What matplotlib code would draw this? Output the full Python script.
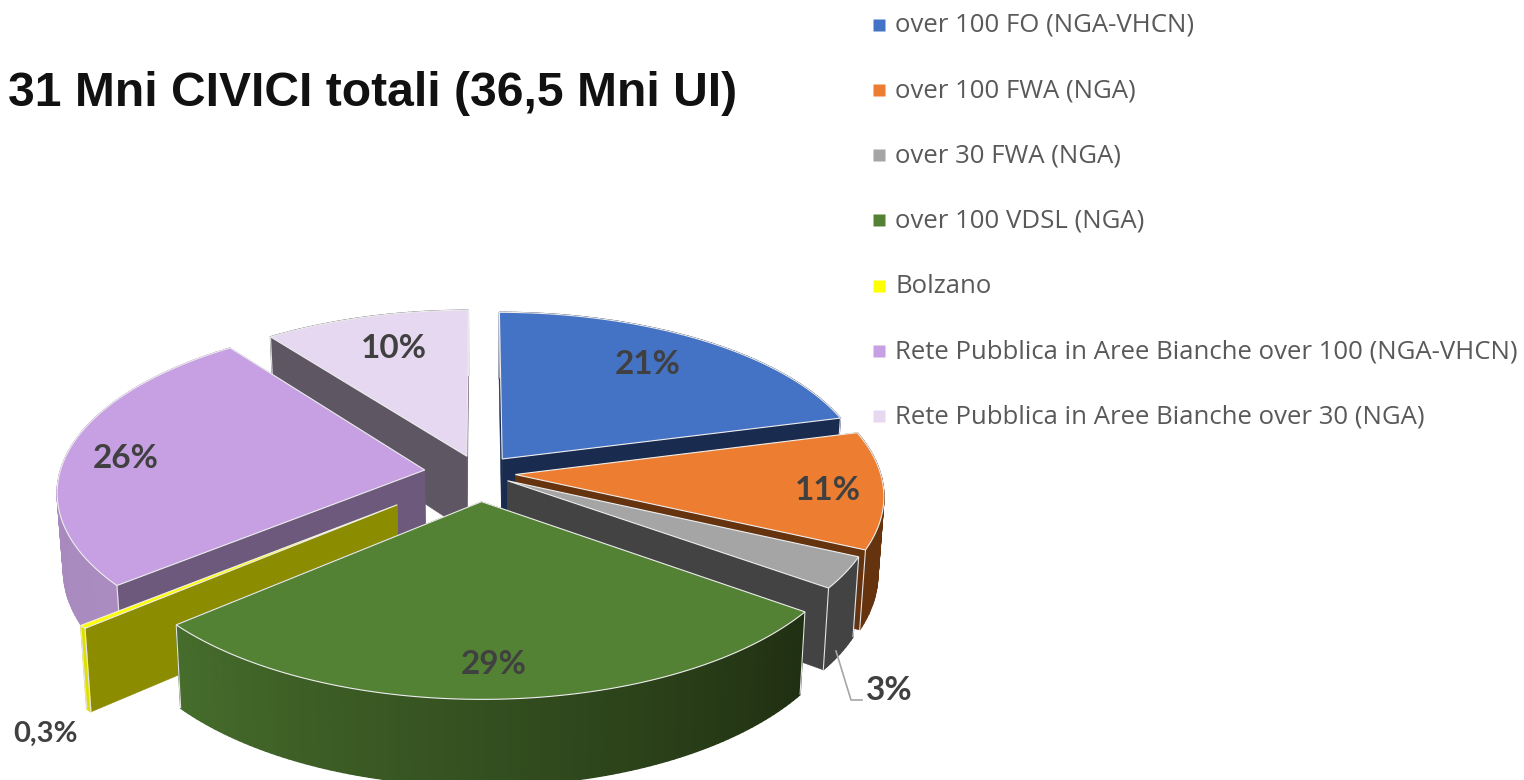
import numpy as np
import matplotlib
matplotlib.use("Agg")
import matplotlib.pyplot as plt
from matplotlib.patches import Polygon

title = "31 Mni CIVICI totali (36,5 Mni UI)"
categories = ["over 100 FO (NGA-VHCN)", "over 100 FWA (NGA)", "over 30 FWA (NGA)",
              "over 100 VDSL (NGA)", "Bolzano",
              "Rete Pubblica in Aree Bianche over 100 (NGA-VHCN)",
              "Rete Pubblica in Aree Bianche over 30 (NGA)"]
# labels in the picture are rounded, slice sizes read a bit finer
values = [21, 11, 3, 29, 0.3, 25.6, 10.4]
labels = ["21%", "11%", "3%", "29%", "0,3%", "26%", "10%"]

colors = ["#4472C4", "#ED7D31", "#A5A5A5", "#548235", "#FFFF00", "#C6A0E2", "#E6D8F0"]
cut_colors = ["#1A2B50", "#66330F", "#434343", "#26361A", "#8C8C00", "#6C597C", "#5E5763"]
# wall colour at the start and at the end of each slice, clockwise
wall_start = ["#1A2B50", "#66330F", "#434343", "#202F12", "#E0E000", "#AB8CC0", "#5E5763"]
wall_end = ["#1A2B50", "#66330F", "#434343", "#466D2C", "#E0E000", "#A586BC", "#5E5763"]
explode = [0.105, 0.10, 0.09, 0.165, 0.285, 0.15, 0.105]

CX, CY = 479, 473
RX, RY = 365, 170.5
PERSP = 0.12
DEPTH = 76


def proj(X, Y):
    s = 1 - PERSP * Y
    return CX + RX * X * s, CY - RY * Y * s


def low(X, Y):
    # same point on the underside of the pie
    x, y = proj(X, Y)
    s = 1 - PERSP * Y
    return CX + (x - CX) * 0.985, y + DEPTH * s


def mix(c1, c2, t):
    a = np.array(matplotlib.colors.to_rgb(c1))
    b = np.array(matplotlib.colors.to_rgb(c2))
    return tuple(a + (b - a) * t)


fig = plt.figure(figsize=(15.24, 7.8), dpi=100)
ax = fig.add_axes([0, 0, 1, 1])
ax.set_xlim(0, 1524)
ax.set_ylim(780, 0)
ax.axis("off")

edges = np.cumsum([0] + values) / sum(values) * 2 * np.pi

slices = []
for i in range(len(values)):
    th = np.linspace(edges[i], edges[i + 1], max(3, int((edges[i + 1] - edges[i]) * 60)))
    mid = (edges[i] + edges[i + 1]) / 2
    ox, oy = explode[i] * np.sin(mid), explode[i] * np.cos(mid)
    slices.append((i, th, ox, oy))

# back to front
for k in [6, 0, 5, 1, 2, 4, 3]:
    i, th, ox, oy = slices[k]
    X = ox + np.sin(th)
    Y = oy + np.cos(th)

    # the two cut faces
    for j in [0, -1]:
        pts = [proj(ox, oy), proj(X[j], Y[j]), low(X[j], Y[j]), low(ox, oy)]
        ax.add_patch(Polygon(pts, closed=True, fc=cut_colors[i], ec=cut_colors[i], lw=0.4))

    # outer wall, split up for the colour gradient
    for j in range(len(th) - 1):
        pts = [proj(X[j], Y[j]), proj(X[j + 1], Y[j + 1]), low(X[j + 1], Y[j + 1]), low(X[j], Y[j])]
        c = mix(wall_start[i], wall_end[i], j / max(1, len(th) - 2))
        ax.add_patch(Polygon(pts, closed=True, fc=c, ec=c, lw=1.0))

    # light edges of the wall corners
    for j in [0, -1]:
        x0, y0 = proj(X[j], Y[j])
        x1, y1 = low(X[j], Y[j])
        ax.plot([x0, x1], [y0, y1], color="#e4e4e4", lw=0.8, solid_capstyle="butt", zorder=1)

    top = [proj(ox, oy)] + [proj(a, b) for a, b in zip(X, Y)]
    ax.add_patch(Polygon(top, closed=True, fc=colors[i], ec="#eeeeee", lw=0.8))

# data labels
label_pos = [(648, 364), (828, 491), (889, 690), (494, 664), (45, 734), (126, 458), (394, 348)]
for txt, (x, y) in zip(labels, label_pos):
    ax.text(x, y, txt, ha="center", va="center", family="Lato", weight="bold",
            fontsize=21 if "," in txt else 24, color="#404040")

# leader line of the 3% label
ax.plot([836, 851, 862], [651, 700, 700], color="#a6a6a6", lw=1.2)

ax.text(8, 94, title, ha="left", va="center", family="Liberation Sans", weight="bold",
        fontsize=34.6, color="#111111")

# legend
for n, name in enumerate(categories):
    y = 25.5 + n * 65.3
    ax.plot([879], [y - 1], marker="s", ms=8, color=colors[n], mec="none", ls="none")
    ax.text(895, y, name, ha="left", va="center", family="Open Sans", fontsize=18.5, color="#595959")

fig.savefig("out.png", dpi=100, facecolor="white")
